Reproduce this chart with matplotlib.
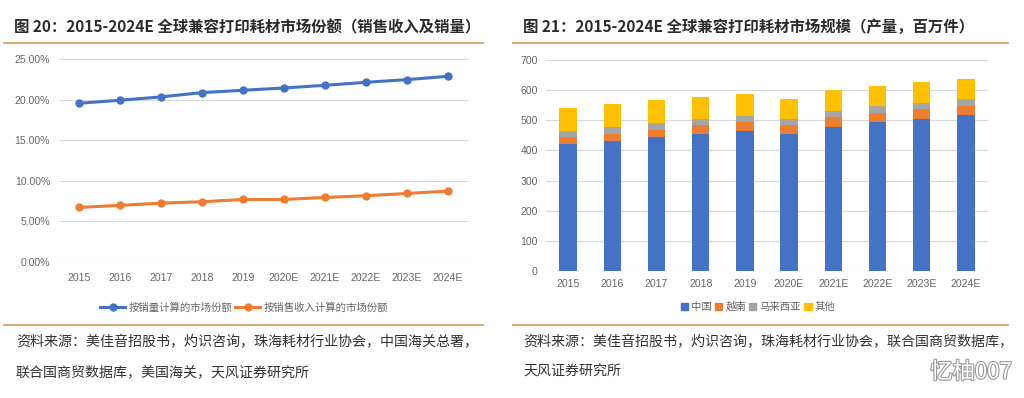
import matplotlib
matplotlib.use("Agg")
import matplotlib.pyplot as plt
from matplotlib.lines import Line2D
from matplotlib.patches import Patch
import matplotlib.patheffects as pe
import numpy as np

plt.rcParams['font.family'] = ['Noto Sans CJK SC', 'DejaVu Sans']

# ---------------- data ----------------
years = ['2015', '2016', '2017', '2018', '2019', '2020E', '2021E', '2022E', '2023E', '2024E']

share_by_volume = [19.55, 19.92, 20.33, 20.86, 21.15, 21.43, 21.76, 22.13, 22.46, 22.87]   # %
share_by_revenue = [6.72, 6.97, 7.25, 7.42, 7.70, 7.70, 7.95, 8.16, 8.44, 8.73]            # %
line_labels = ['按销量计算的市场份额', '按销售收入计算的市场份额']

china = [420, 432, 443, 455, 466, 456, 479, 494, 504, 517]
vietnam = [25, 24, 25, 29, 29, 29, 31, 31, 32, 31]
malaysia = [19, 21, 23, 20, 20, 19, 21, 22, 22, 23]
others = [78, 77, 76, 74, 72, 68, 68, 67, 68, 66]
bar_labels = ['中国', '越南', '马来西亚', '其他']

y_ticks_left = [0, 5, 10, 15, 20, 25]
y_ticks_right = [0, 100, 200, 300, 400, 500, 600, 700]

title_left = '图 20：2015-2024E 全球兼容打印耗材市场份额（销售收入及销量）'
title_right = '图 21：2015-2024E 全球兼容打印耗材市场规模（产量，百万件）'
source_left = ['资料来源：美佳音招股书，灼识咨询，珠海耗材行业协会，中国海关总署，',
               '联合国商贸数据库，美国海关，天风证券研究所']
source_right = ['资料来源：美佳音招股书，灼识咨询，珠海耗材行业协会，联合国商贸数据库，',
                '天风证券研究所']
watermark = '忆柚007'

# ---------------- style ----------------
W, H = 1024, 398
BLUE = '#4472C4'
ORANGE = '#ED7D31'
GREY = '#A5A5A5'
YELLOW = '#FFC000'
RULE = '#CF9A4C'
TICK = '#666666'
GRID = '#D9D9D9'
TICKFONT = ['Liberation Sans', 'DejaVu Sans']

fig = plt.figure(figsize=(W / 100, H / 100), dpi=100)
fig.patch.set_facecolor('white')


def fx(px):
    return px / W


def fy(py):
    return 1 - py / H


def style_axes(ax):
    for s in ax.spines.values():
        s.set_visible(False)
    ax.grid(axis='y', color=GRID, linewidth=0.8)
    ax.set_axisbelow(True)
    ax.tick_params(axis='both', length=0, colors=TICK, labelsize=7.6)
    for lab in ax.get_xticklabels() + ax.get_yticklabels():
        lab.set_family(TICKFONT)


# ---------- left chart ----------
axL = fig.add_axes([fx(58.5), fy(262), fx(468.5 - 58.5), (262 - 59) / H])
x = np.arange(len(years))
l1, = axL.plot(x, share_by_volume, color=BLUE, lw=2.2, marker='o', ms=5, label=line_labels[0])
l2, = axL.plot(x, share_by_revenue, color=ORANGE, lw=2.2, marker='o', ms=5, label=line_labels[1])
axL.set_xlim(-0.5, len(years) - 0.5)
axL.set_ylim(0, 25)
axL.set_yticks(y_ticks_left)
axL.set_yticklabels(['%.2f%%' % v for v in y_ticks_left])
axL.set_xticks(x)
axL.set_xticklabels(years)
axL.tick_params(axis='y', pad=6)
axL.tick_params(axis='x', pad=8)
style_axes(axL)

fig.legend(handles=[l1, l2], loc='center', bbox_to_anchor=(fx(244), fy(308)), ncol=2,
           frameon=False, fontsize=7.5, handlelength=2.4, handletextpad=0.3,
           columnspacing=0.3, labelcolor=TICK, borderaxespad=0, borderpad=0)

# ---------- right chart ----------
axR = fig.add_axes([fx(546), fy(271), fx(988 - 546), (271 - 60) / H])
bw = 0.39
axR.bar(x, china, width=bw, color=BLUE, label=bar_labels[0])
bottom = np.array(china, dtype=float)
axR.bar(x, vietnam, width=bw, bottom=bottom, color=ORANGE, label=bar_labels[1])
bottom += np.array(vietnam)
axR.bar(x, malaysia, width=bw, bottom=bottom, color=GREY, label=bar_labels[2])
bottom += np.array(malaysia)
axR.bar(x, others, width=bw, bottom=bottom, color=YELLOW, label=bar_labels[3])
axR.set_xlim(-0.5, len(years) - 0.5)
axR.set_ylim(0, 700)
axR.set_yticks(y_ticks_right)
axR.set_xticks(x)
axR.set_xticklabels(years)
axR.tick_params(axis='y', pad=6)
axR.tick_params(axis='x', pad=6)
style_axes(axR)

handles = [Patch(color=c, label=l) for c, l in zip([BLUE, ORANGE, GREY, YELLOW], bar_labels)]
fig.legend(handles=handles, loc='center', bbox_to_anchor=(fx(758), fy(307)), ncol=4,
           frameon=False, fontsize=7.5, handlelength=0.7, handleheight=0.7,
           handletextpad=0.3, columnspacing=0.3, labelcolor=TICK,
           borderaxespad=0, borderpad=0)

# ---------- titles, rules, sources ----------
fig.text(fx(14), fy(27), title_left, fontsize=11.1, fontweight='bold', color='#2b2b2b',
         ha='left', va='center')
fig.text(fx(523), fy(27), title_right, fontsize=11.1, fontweight='bold', color='#2b2b2b',
         ha='left', va='center')

for (x0, x1) in [(4, 483), (513, 1008)]:
    for yy in (43, 325):
        fig.add_artist(Line2D([fx(x0), fx(x1)], [fy(yy), fy(yy)], color=RULE, lw=1.2,
                              transform=fig.transFigure))

for i, s in enumerate(source_left):
    fig.text(fx(16), fy(342 + 30 * i), s, fontsize=10.1, color='#333333', ha='left', va='center')
for i, s in enumerate(source_right):
    fig.text(fx(523), fy(342 + 30 * i), s, fontsize=10.1, color='#333333', ha='left', va='center')

wm = fig.text(fx(1012), fy(372), watermark, fontsize=16, color='white', ha='right', va='center')
wm.set_path_effects([pe.Stroke(linewidth=1.6, foreground='#9A9A9A'), pe.Normal()])

fig.savefig('out.png', dpi=100, facecolor='white')
